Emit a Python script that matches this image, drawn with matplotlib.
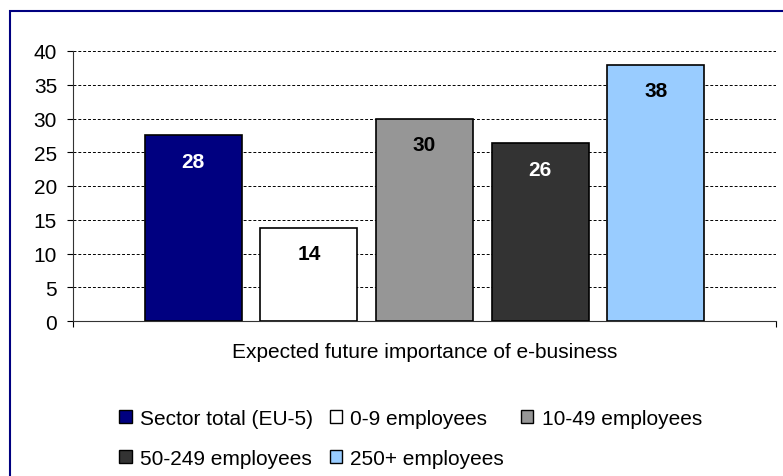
import matplotlib
matplotlib.use('Agg')
import matplotlib.pyplot as plt
from matplotlib.patches import Patch, Rectangle

# survey shares, % of enterprises, by size class
groups = ['Sector total (EU-5)', '0-9 employees', '10-49 employees',
          '50-249 employees', '250+ employees']
values = [27.5, 13.8, 29.9, 26.3, 38.0]
colors = ['#000080', '#FFFFFF', '#969696', '#333333', '#99CCFF']
label_colors = ['white', 'black', 'black', 'white', 'black']
category = 'Expected future importance of e-business'

plt.rcParams['font.family'] = ['Liberation Sans', 'DejaVu Sans']
FS = 15

W, H = 783, 477
fig = plt.figure(figsize=(W / 100, H / 100), dpi=100)
ax = fig.add_axes([73 / W, 1 - 322 / H, 703 / W, 270 / H])

x = range(len(values))
bars = ax.bar(x, values, width=0.84, color=colors, edgecolor='black',
              linewidth=1.2, zorder=3)

for b, v, c in zip(bars, values, label_colors):
    ax.annotate(f'{v:.0f}', (b.get_x() + b.get_width() / 2, v),
                xytext=(0, -18.5), textcoords='offset points',
                ha='center', va='center', fontsize=FS, fontweight='bold',
                color=c, zorder=4)

ax.set_ylim(0, 40)
ax.set_yticks(range(0, 41, 5))
ax.set_xlim(-1.04, 5.04)
ax.set_xticks([-1.04, 5.04])
ax.tick_params(axis='x', length=4.5, direction='out', labelbottom=False)
ax.tick_params(axis='y', length=4.5, pad=7, labelsize=FS)
ax.yaxis.grid(True, linestyle=(0, (3, 2)), color='black', linewidth=0.7)
ax.set_axisbelow(True)
for s in ['top', 'right']:
    ax.spines[s].set_visible(False)
for s in ['left', 'bottom']:
    ax.spines[s].set_color('#333333')

fig.text((73 + 703 / 2) / W, 1 - 353 / H, category, ha='center', va='center',
         fontsize=FS)

# legend filled row by row: reorder for matplotlib's column-major layout
order = [0, 3, 1, 4, 2]
handles = [Patch(facecolor=colors[i], edgecolor='black', linewidth=1) for i in order]
fig.legend(handles, [groups[i] for i in order], ncol=3, loc='upper left',
           bbox_to_anchor=(119 / W, 1 - 410 / H), frameon=False, fontsize=FS,
           handlelength=0.6, handleheight=0.6, handletextpad=0.4,
           columnspacing=0.8, labelspacing=1.0, borderpad=0, borderaxespad=0)

# outer chart frame (runs past the right and bottom edges)
fig.add_artist(Rectangle((9.5 / W, -0.1), 1.2, 1.1 - 11.5 / H,
                         transform=fig.transFigure, fill=False,
                         edgecolor='#000080', linewidth=1.5))

fig.savefig('out.png', dpi=100)
